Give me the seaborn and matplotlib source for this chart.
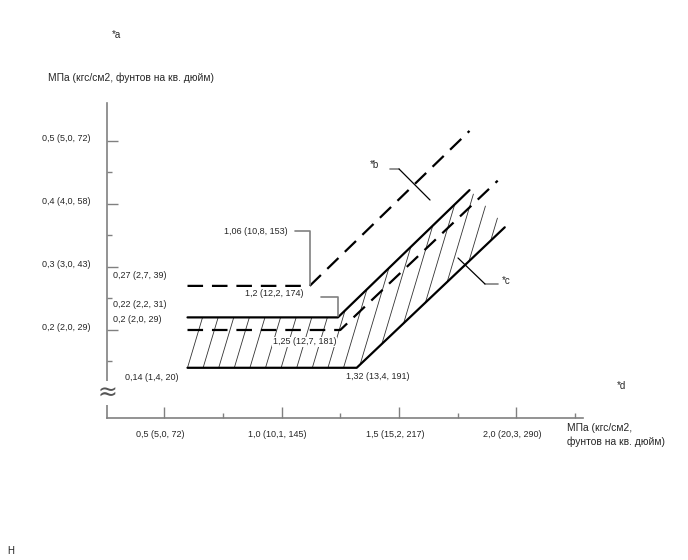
import numpy as np
import matplotlib
matplotlib.use('Agg')
import matplotlib.pyplot as plt
import matplotlib.transforms as mtransforms
import seaborn as sns

# 데이터 (MPa)
x_ticks = [0.5, 1.0, 1.5, 2.0]
x_labels = ['0,5 (5,0, 72)', '1,0 (10,1, 145)', '1,5 (15,2, 217)', '2,0 (20,3, 290)']
x_minor = [0.75, 1.25, 1.75, 2.25]
y_ticks = [0.2, 0.3, 0.4, 0.5]
y_labels = ['0,2 (2,0, 29)', '0,3 (3,0, 43)', '0,4 (4,0, 58)', '0,5 (5,0, 72)']
y_minor = [0.15, 0.25, 0.35, 0.45]

# 선 4개 (꺾이는 점)
top_dash_x = [0.60, 1.12, 1.80]
top_dash_y = [0.27, 0.27, 0.516]
up_x = [0.60, 1.24, 1.80]
up_y = [0.22, 0.22, 0.422]
mid_dash_x = [0.60, 1.25, 1.92]
mid_dash_y = [0.20, 0.20, 0.437]
low_x = [0.60, 1.32, 1.95]
low_y = [0.14, 0.14, 0.363]

sns.set_style('white')
plt.rcParams['font.family'] = ['Liberation Sans', 'DejaVu Sans']
fs = 6.5
gray = '#808080'

fig = plt.figure(figsize=(6.88, 5.6), dpi=100)
ax = fig.add_axes([107/688, 142/560, 476/688, 315/560])
ax.set_xlim(0.2574, 2.283)
ax.set_ylim(0.0603, 0.5603)

# 빗금 (아래 실선 ~ 위 실선 사이)
n_hatch, hatch_step, hatch_slope = 18, 0.0664, 0.80
cap_k = 235 / 630
ys = np.linspace(0.1, 0.6, 4000)
for k in range(n_hatch):
    c = low_x[0] + k * hatch_step
    xs = c + hatch_slope * (ys - low_y[0])
    lo = np.interp(xs, low_x, low_y)
    hi = np.interp(xs, up_x, up_y)
    hi = np.where(xs > up_x[-1], up_y[-1] - (xs - up_x[-1]) * cap_k, hi)
    m = (ys >= lo) & (ys <= hi)
    if m.sum() > 1:
        ax.plot(xs[m][[0, -1]], ys[m][[0, -1]], color='#333333', lw=0.6, zorder=1)

sns.lineplot(x=top_dash_x, y=top_dash_y, ax=ax, color='black', lw=1.6,
             linestyle=(0, (7, 4)), sort=False, estimator=None, zorder=3)
sns.lineplot(x=up_x, y=up_y, ax=ax, color='black', lw=1.6,
             sort=False, estimator=None, zorder=3)
sns.lineplot(x=mid_dash_x, y=mid_dash_y, ax=ax, color='black', lw=1.6,
             linestyle=(0, (7, 4)), sort=False, estimator=None, zorder=3)
sns.lineplot(x=low_x, y=low_y, ax=ax, color='black', lw=1.6,
             sort=False, estimator=None, zorder=3)

# 축
for s in ['top', 'right']:
    ax.spines[s].set_visible(False)
for s in ['left', 'bottom']:
    ax.spines[s].set_color(gray)
    ax.spines[s].set_linewidth(1.2)
ax.set_xticks(x_ticks, x_labels)
ax.set_xticks(x_minor, minor=True)
ax.set_yticks(y_ticks, y_labels)
ax.set_yticks(y_minor, minor=True)
ax.tick_params(which='both', bottom=True, left=True)
ax.tick_params(which='major', direction='in', length=8, width=1, color=gray, labelsize=fs)
ax.tick_params(which='minor', direction='in', length=3.5, width=1, color=gray)
ax.tick_params(axis='x', pad=8.6)
ax.tick_params(axis='y', pad=12.2)
for lab in ax.get_xticklabels():
    lab.set_transform(lab.get_transform() + mtransforms.ScaledTranslation(-3/72, 0, fig.dpi_scale_trans))
for lab in ax.get_yticklabels():
    lab.set_transform(lab.get_transform() + mtransforms.ScaledTranslation(0, 2.5/72, fig.dpi_scale_trans))
    lab.set_horizontalalignment('left')
    lab.set_transform(lab.get_transform() + mtransforms.ScaledTranslation(-48*0.72/72, 0, fig.dpi_scale_trans))

# 축 끊김 표시
ax.text(0, 0.1, '≈', transform=ax.get_yaxis_transform(), fontsize=17, color='#555555',
        ha='center', va='center', family='DejaVu Sans',
        bbox=dict(facecolor='white', edgecolor='none', pad=0), zorder=5, clip_on=False)

# 왼쪽 값 표시
yt = ax.get_yaxis_transform()
ax.annotate('0,27 (2,7, 39)', xy=(0, top_dash_y[0]), xycoords=yt, xytext=(4.3, 7.5),
            textcoords='offset points', fontsize=fs, va='center')
ax.annotate('0,22 (2,2, 31)', xy=(0, up_y[0]), xycoords=yt, xytext=(4.3, 9.3),
            textcoords='offset points', fontsize=fs, va='center')
ax.annotate('0,2 (2,0, 29)', xy=(0, mid_dash_y[0]), xycoords=yt, xytext=(4.3, 7.9),
            textcoords='offset points', fontsize=fs, va='center')
ax.annotate('0,14 (1,4, 20)', xy=(0, low_y[0]), xycoords=yt, xytext=(13, -7.2),
            textcoords='offset points', fontsize=fs, va='center')

# 꺾이는 점 표시
ax.annotate('1,06 (10,8, 153)', xy=(top_dash_x[1], top_dash_y[1]), xytext=(-15.8, 39.4),
            textcoords='offset points', fontsize=fs, ha='right', va='center')
ax.annotate('', xy=(top_dash_x[1], top_dash_y[1]), xytext=(-10.8, 39.4),
            textcoords='offset points',
            arrowprops=dict(arrowstyle='-', color=gray, lw=1.2, shrinkA=0, shrinkB=1,
                            connectionstyle='angle,angleA=0,angleB=90,rad=0'))
ax.annotate('1,2 (12,2, 174)', xy=(up_x[1], up_y[1]), xytext=(-25, 17.3),
            textcoords='offset points', fontsize=fs, ha='right', va='center')
ax.annotate('', xy=(up_x[1], up_y[1]), xytext=(-12.2, 14.4),
            textcoords='offset points',
            arrowprops=dict(arrowstyle='-', color=gray, lw=1.2, shrinkA=0, shrinkB=1,
                            connectionstyle='angle,angleA=0,angleB=90,rad=0'))
ax.annotate('1,25 (12,7, 181)', xy=(mid_dash_x[1], mid_dash_y[1]), xytext=(-2.9, -8.6),
            textcoords='offset points', fontsize=fs, ha='right', va='center',
            bbox=dict(facecolor='white', edgecolor='none', pad=0.5), zorder=2)
ax.annotate('1,32 (13,4, 191)', xy=(low_x[1], low_y[1]), xytext=(-7.9, -6.5),
            textcoords='offset points', fontsize=fs, ha='left', va='center')

# *b, *c
ax.plot([1.4617, 1.50], [0.4556, 0.4556], color=gray, lw=1.2)
ax.plot([1.50, 1.632], [0.4556, 0.4063], color='black', lw=0.9)
ax.text(1.3766, 0.462, '*b', fontsize=fs + 0.5, va='center')
ax.plot([1.921, 1.866], [0.273, 0.273], color=gray, lw=1.2)
ax.plot([1.866, 1.751], [0.273, 0.3143], color='black', lw=0.9)
ax.text(1.938, 0.2778, '*c', fontsize=fs + 0.5, va='center')

# 축 제목 및 기타 글자
fs_t = 7.4
fig.text(48/688, 1 - 78/560, 'МПа (кгс/см2, фунтов на кв. дюйм)', fontsize=fs_t, va='center')
fig.text(567/688, 1 - 423/560, 'МПа (кгс/см2,\nфунтов на кв. дюйм)', fontsize=fs_t,
         va='top', linespacing=1.4)
fig.text(112/688, 1 - 35/560, '*a', fontsize=fs + 0.5, va='center')
fig.text(617/688, 1 - 386/560, '*d', fontsize=fs + 0.5, va='center')
fig.text(7/688, 1 - 551/560, 'H', fontsize=fs + 0.5, va='center', color='#222222')

plt.savefig('out.png', dpi=100)
